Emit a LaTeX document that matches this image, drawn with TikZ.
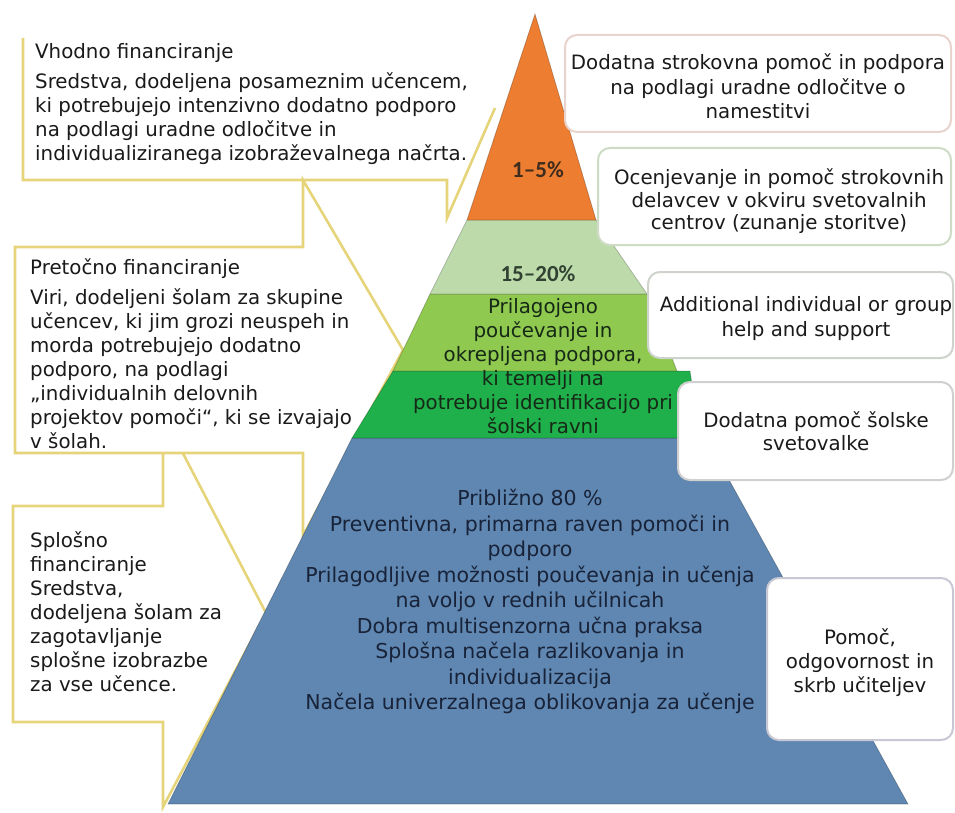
\documentclass[tikz,border=0pt]{standalone}
\usepackage{fontspec}
\setmainfont{DejaVu Sans}
\newfontfamily\calfont{Carlito}
\definecolor{cborder}{RGB}{230,212,122}
\definecolor{orangeL}{RGB}{237,125,49}
\definecolor{lgreen}{RGB}{189,219,170}
\definecolor{mgreen}{RGB}{143,201,79}
\definecolor{dgreen}{RGB}{32,176,75}
\definecolor{blueL}{RGB}{95,135,177}
\definecolor{txt}{RGB}{26,26,26}
\definecolor{gtxt}{RGB}{22,40,22}
\definecolor{btxt}{RGB}{24,34,56}
\definecolor{bx1}{RGB}{232,212,204}
\definecolor{bx2}{RGB}{206,220,198}
\definecolor{bx3}{RGB}{206,212,204}
\definecolor{bx4}{RGB}{208,208,208}
\definecolor{bx5}{RGB}{200,200,212}
\begin{document}
\begin{tikzpicture}[x=1pt,y=-1pt,
  callout/.style={draw=cborder, line width=2.6pt, fill=white, line join=miter},
  calloutline/.style={draw=cborder, line width=2.6pt, line join=miter},
  layer/.style={draw=black, draw opacity=0.22, line width=0.8pt},
  rbox/.style={draw=#1, line width=2pt, fill=white, rounded corners=12pt},
  lefttext/.style={anchor=north west, inner sep=0pt, align=left, text=txt,
    font=\fontsize{19.8}{24}\selectfont},
  boxtext/.style={anchor=north, inner sep=0pt, align=center, text=txt},
  pct/.style={inner sep=0pt, font=\calfont\bfseries\fontsize{23}{27}\selectfont}]
\useasboundingbox (0,0) rectangle (955,813);
\fill[white] (0,0) rectangle (955,813);

% left callouts
\draw[callout] (163,506) -- (13,506) -- (13,722) -- (163,722) -- (163,807) -- (266,613) -- (163,415) -- cycle;
\draw[callout] (303,247) -- (15,247) -- (15,453) -- (303,453) -- (303,536) -- (403,350) -- (303,180) -- cycle;
\draw[calloutline] (23,38) -- (23,180) -- (447,180) -- (447,218) -- (495,108);

% pyramid
\path[layer, fill=blueL] (352,438) -- (706,438) -- (908,804) -- (168,804) -- cycle;
\path[layer, fill=dgreen] (393,371) -- (690,371) -- (700,438) -- (352,438) -- cycle;
\path[layer, fill=mgreen] (430,294) -- (647,294) -- (677,371) -- (393,371) -- cycle;
\path[layer, fill=lgreen] (467,220) -- (596,220) -- (647,294) -- (430,294) -- cycle;
\path[layer, fill=orangeL] (535,14) -- (596,220) -- (467,220) -- cycle;

\node[pct, text={rgb,255:red,62;green,44;blue,30}] (p1) at (538,170) {1–5\%};
\node[pct, text={rgb,255:red,50;green,66;blue,50}] (p2) at (538,274) {15–20\%};

\node[anchor=north, inner sep=0pt, align=center, text=gtxt,
  font=\fontsize{19.8}{24}\selectfont] (gt) at (543,298.5)
  {Prilagojeno\\poučevanje in\\okrepljena podpora,\\ki temelji na\\potrebuje identifikacijo pri\\šolski ravni};

\node[anchor=north, inner sep=0pt, align=center, text=btxt,
  font=\fontsize{20.5}{25.5}\selectfont] (bt) at (530,489)
  {Približno 80 \%\\Preventivna, primarna raven pomoči in\\podporo\\Prilagodljive možnosti poučevanja in učenja\\na voljo v rednih učilnicah\\Dobra multisenzorna učna praksa\\Splošna načela razlikovanja in\\individualizacija\\Načela univerzalnega oblikovanja za učenje};

% right boxes
\draw[rbox=bx1] (565,35) rectangle (951,132);
\draw[rbox=bx2] (598,148) rectangle (951,245);
\draw[rbox=bx3] (648,272) rectangle (953,358);
\draw[rbox=bx4] (678,382) rectangle (953,480);
\draw[rbox=bx5] (767,578) rectangle (953,740);

\node[boxtext, font=\fontsize{19.8}{24.5}\selectfont] (t1) at (758,53.5)
  {Dodatna strokovna pomoč in podpora\\na podlagi uradne odločitve o\\namestitvi};
\node[boxtext, font=\fontsize{19.8}{22.5}\selectfont] (t2) at (779,168.5)
  {Ocenjevanje in pomoč strokovnih\\delavcev v okviru svetovalnih\\centrov (zunanje storitve)};
\node[boxtext, font=\fontsize{19.8}{25}\selectfont] (t3) at (806,296.5)
  {Additional individual or group\\help and support};
\node[boxtext, font=\fontsize{19.8}{23}\selectfont] (t4) at (816,411.5)
  {Dodatna pomoč šolske\\svetovalke};
\node[boxtext, font=\fontsize{19.8}{24}\selectfont] (t5) at (860,628.5)
  {Pomoč,\\odgovornost in\\skrb učiteljev};

% left texts
\node[lefttext] (l1) at (35,43.5)
  {Vhodno financiranje\\[6pt]Sredstva, dodeljena posameznim učencem,\\ki potrebujejo intenzivno dodatno podporo\\na podlagi uradne odločitve in\\individualiziranega izobraževalnega načrta.};
\node[lefttext] (l2) at (30,258.5)
  {Pretočno financiranje\\[6pt]Viri, dodeljeni šolam za skupine\\učencev, ki jim grozi neuspeh in\\morda potrebujejo dodatno\\podporo, na podlagi\\„individualnih delovnih\\projektov pomoči“, ki se izvajajo\\v šolah.};
\node[lefttext] (l3) at (30,531.5)
  {Splošno\\financiranje\\Sredstva,\\dodeljena šolam za\\zagotavljanje\\splošne izobrazbe\\za vse učence.};
\end{tikzpicture}
\end{document}
